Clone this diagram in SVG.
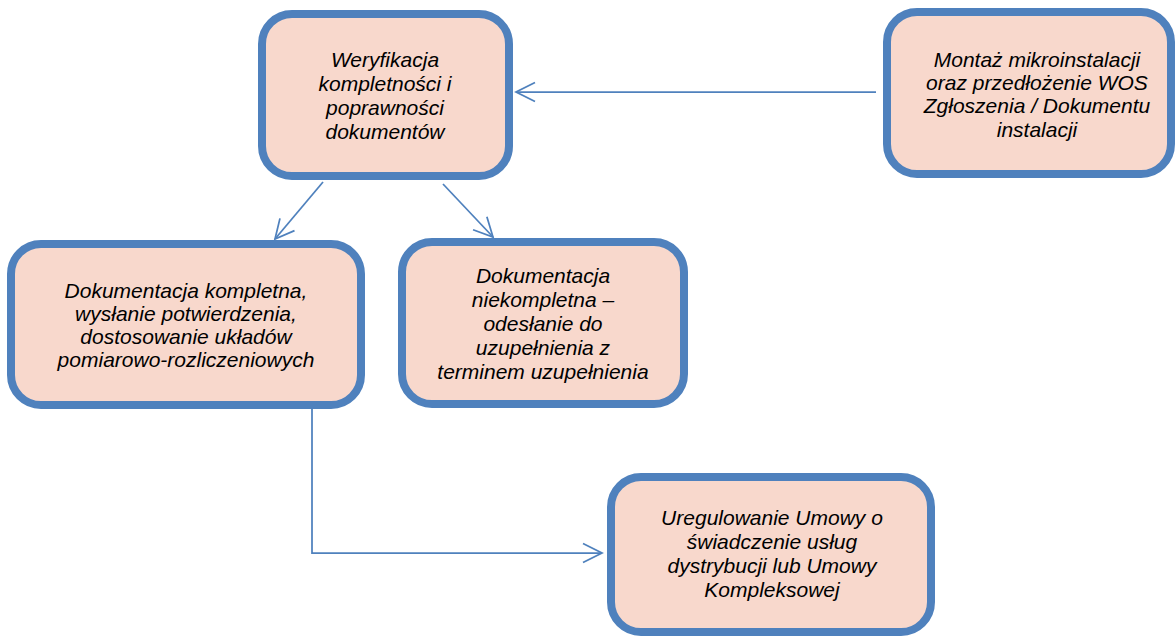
<svg xmlns="http://www.w3.org/2000/svg" width="1176" height="636" viewBox="0 0 1176 636">
<defs>
<style>
.box{fill:#F8D8CC;stroke:#4F81BD;stroke-width:8}
.lbl{font-family:"Liberation Sans",Arial,sans-serif;font-style:italic;font-size:21px;fill:#000;text-anchor:middle}
.con{fill:none;stroke:#4F81BD;stroke-width:1.75}
</style>
<marker id="arr" markerUnits="userSpaceOnUse" markerWidth="26" markerHeight="26" viewBox="-22 -13 26 26" refX="0" refY="0" orient="auto">
<path d="M-19,-9.5 L0,0 L-19,9.5" fill="none" stroke="#4F81BD" stroke-width="1.75"/>
</marker>
</defs>
<rect width="1176" height="636" fill="#fff"/>
<g id="connectors">
<path class="con" d="M876,92 L516,92" marker-end="url(#arr)"/>
<path class="con" d="M323,182 L275,239" marker-end="url(#arr)"/>
<path class="con" d="M443,184 L493,237" marker-end="url(#arr)"/>
<path class="con" d="M312,408 L312,553 L602,553" marker-end="url(#arr)"/>
</g>
<g id="n1">
<rect class="box" x="262" y="14" width="247" height="162" rx="30"/>
<text class="lbl"><tspan x="385" y="67">Weryfikacja</tspan><tspan x="385" y="91">kompletności i</tspan><tspan x="385" y="115">poprawności</tspan><tspan x="385" y="139">dokumentów</tspan></text>
</g>
<g id="n2">
<rect class="box" x="887" y="12" width="284" height="162" rx="30"/>
<text class="lbl"><tspan x="1037" y="67">Montaż mikroinstalacji</tspan><tspan x="1037" y="90">oraz przedłożenie WOS</tspan><tspan x="1037" y="113">Zgłoszenia / Dokumentu</tspan><tspan x="1037" y="137">instalacji</tspan></text>
</g>
<g id="n3">
<rect class="box" x="11" y="244" width="350" height="161" rx="30"/>
<text class="lbl"><tspan x="186" y="298">Dokumentacja kompletna,</tspan><tspan x="186" y="321">wysłanie potwierdzenia,</tspan><tspan x="186" y="344">dostosowanie układów</tspan><tspan x="186" y="367">pomiarowo-rozliczeniowych</tspan></text>
</g>
<g id="n4">
<rect class="box" x="402" y="242" width="282" height="162" rx="30"/>
<text class="lbl"><tspan x="543" y="283">Dokumentacja</tspan><tspan x="543" y="307">niekompletna –</tspan><tspan x="543" y="331">odesłanie do</tspan><tspan x="543" y="355">uzupełnienia z</tspan><tspan x="543" y="379">terminem uzupełnienia</tspan></text>
</g>
<g id="n5">
<rect class="box" x="611" y="477" width="320" height="155" rx="30"/>
<text class="lbl"><tspan x="772" y="525">Uregulowanie Umowy o</tspan><tspan x="772" y="549">świadczenie usług</tspan><tspan x="772" y="573">dystrybucji lub Umowy</tspan><tspan x="772" y="597">Kompleksowej</tspan></text>
</g>
</svg>
